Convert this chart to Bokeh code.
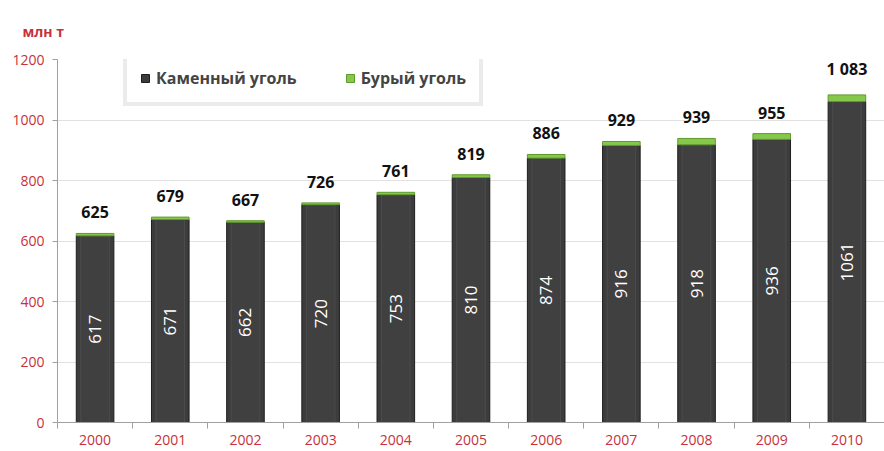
from bokeh.plotting import figure
from bokeh.models import (ColumnDataSource, FixedTicker, Title, Legend, LegendItem)
from bokeh.core.properties import value
from bokeh.embed import file_html
from bokeh.resources import INLINE

years = ["2000", "2001", "2002", "2003", "2004", "2005", "2006", "2007", "2008", "2009", "2010"]
hard_coal = [617, 671, 662, 720, 753, 810, 874, 916, 918, 936, 1061]
totals = [625, 679, 667, 726, 761, 819, 886, 929, 939, 955, 1083]
brown_coal = [t - h for t, h in zip(totals, hard_coal)]
y_ticks = [0, 200, 400, 600, 800, 1000, 1200]

RED = "#c8303a"
FONT = "Open Sans"

xs = [i + 0.5 for i in range(len(years))]
bounds = list(range(len(years) + 1))

def fmt(v):
    return f"{v:,}".replace(",", " ")

src = ColumnDataSource(dict(
    x=xs, hard=hard_coal, brown=brown_coal, total=totals,
    mid=[h / 2 for h in hard_coal],
    total_lbl=[fmt(t) for t in totals],
    hard_lbl=[str(h) for h in hard_coal],
))

p = figure(width=884, height=451, output_backend="svg", toolbar_location=None,
           x_range=(0, len(years)), y_range=(0, 1200),
           min_border_left=57, min_border_right=0, min_border_top=51, min_border_bottom=29)
p.outline_line_color = None
p.background_fill_color = "white"

p.add_layout(Title(text="млн т", align="left", offset=-35, standoff=38,
                   text_color=RED, text_font=FONT, text_font_style="bold",
                   text_font_size="14px"), "above")

r_hard = p.vbar(x="x", top="hard", bottom=0, width=0.5, source=src,
                fill_color="#3c3c3c", line_color="#1e1e1e", line_width=1)
p.vbar(x="x", top="hard", bottom=0, width=0.38, source=src,
       fill_color="#404040", line_color="#4c4c4c", line_width=1)
r_brown = p.vbar(x="x", top="total", bottom="hard", width=0.5, source=src,
                 fill_color="#86c94a", line_color="#5e9a2c", line_width=1)

p.text(x="x", y="total", text="total_lbl", source=src, text_align="center",
       text_baseline="bottom", y_offset=-15, text_font=value(FONT),
       text_font_style="bold", text_font_size="16px", text_color="#111111")
p.text(x="x", y="mid", text="hard_lbl", source=src, text_align="center",
       text_baseline="middle", angle=1.5708, text_font=value(FONT),
       text_font_size="17px", text_color="white")

# axes
p.xaxis.ticker = FixedTicker(ticks=xs, minor_ticks=bounds)
p.xaxis.major_label_overrides = {x: y for x, y in zip(xs, years)}
p.xaxis.major_tick_line_color = None
p.xaxis.minor_tick_in = 0
p.xaxis.minor_tick_out = 6
p.xaxis.minor_tick_line_color = "#a0a0a0"
p.xaxis.axis_line_color = "#a0a0a0"
p.xaxis.major_label_text_color = RED
p.xaxis.major_label_text_font = FONT
p.xaxis.major_label_text_font_size = "14px"
p.xaxis.major_label_standoff = 6

p.yaxis.ticker = FixedTicker(ticks=y_ticks)
p.yaxis.minor_tick_line_color = None
p.yaxis.major_tick_in = 0
p.yaxis.major_tick_out = 5
p.yaxis.major_tick_line_color = "#a0a0a0"
p.yaxis.axis_line_color = "#a0a0a0"
p.yaxis.major_label_text_color = RED
p.yaxis.major_label_text_font = FONT
p.yaxis.major_label_text_font_size = "14px"
p.yaxis.major_label_standoff = 8

p.xgrid.grid_line_color = None
p.ygrid.grid_line_color = "#e2e2e2"

legend = Legend(items=[LegendItem(label="Каменный уголь", renderers=[r_hard]),
                       LegendItem(label="Бурый уголь", renderers=[r_brown])],
                orientation="horizontal", location=(66, 316))
legend.label_text_font = FONT
legend.label_text_font_style = "bold"
legend.label_text_font_size = "16px"
legend.glyph_width = 10
legend.glyph_height = 10
legend.spacing = 48
legend.padding = 13
legend.margin = 0
legend.label_standoff = 6
legend.border_line_color = "#d8d8d8"
legend.border_line_width = 4
legend.background_fill_color = "white"
p.add_layout(legend)

open("out.html", "w").write(file_html(p, INLINE))
